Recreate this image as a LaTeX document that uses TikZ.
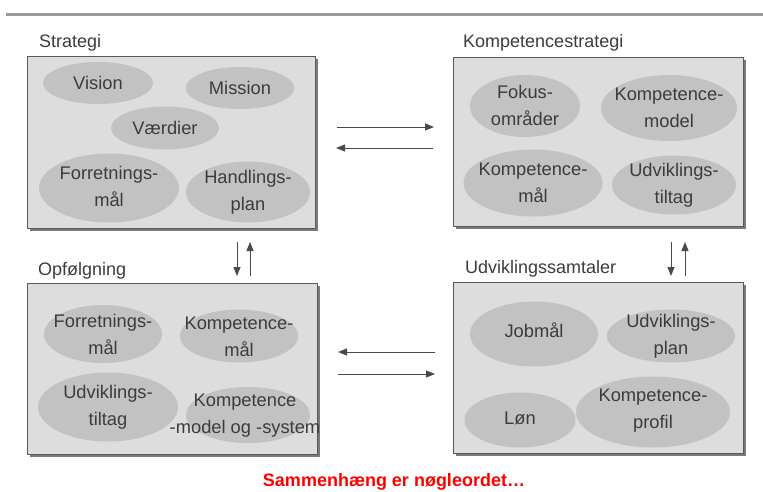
\documentclass[tikz,border=0pt]{standalone}
\usepackage{fontspec}
\setmainfont{Liberation Sans}
\usetikzlibrary{arrows.meta,shapes.geometric,shadows}
\definecolor{boxfill}{HTML}{DDDDDD}
\definecolor{boxline}{HTML}{5A5A5A}
\definecolor{shadowgray}{HTML}{7A7A7A}
\definecolor{ellfill}{HTML}{C2C2C2}
\definecolor{txtgray}{HTML}{3C3C3C}
\definecolor{arrgray}{HTML}{4A4A4A}
\definecolor{topline}{HTML}{9A9A9A}
\newcommand\ellip[7]{%
  \node[ell, minimum width=#4pt, minimum height=#5pt] (#1) at (#2,#3) {};
  \node[etxt] (#1t) at ([yshift=#6pt]#1.center) {#7};}
\begin{document}
\begin{tikzpicture}[x=1pt,y=-1pt,
  box/.style={draw=boxline, line width=1pt, fill=boxfill, inner sep=0,
    drop shadow={shadow xshift=3pt, shadow yshift=-3pt, fill=shadowgray, opacity=1}},
  ell/.style={ellipse, fill=ellfill, draw=none, inner sep=0},
  etxt/.style={text=txtgray, font=\fontsize{18.3}{27}\selectfont, align=center, inner sep=0},
  ttl/.style={text=txtgray, font=\fontsize{18}{22}\selectfont, anchor=base west, inner sep=0},
  arr/.style={draw=arrgray, line width=0.9pt, -{Triangle[length=9pt,width=7pt]}}]
\useasboundingbox (0,0) rectangle (763,491);
\fill[white] (0,0) rectangle (763,491);
% top rule
\coordinate (tl) at (6,14);
\coordinate (tr) at (763,14);
\draw[topline, line width=3pt] (tl) -- (tr);
% boxes
\node[box, minimum width=288pt, minimum height=172pt] (S) at (171,142) {};
\node[box, minimum width=290pt, minimum height=169pt] (K) at (598,141.5) {};
\node[box, minimum width=290pt, minimum height=171pt] (O) at (172,368.5) {};
\node[box, minimum width=290pt, minimum height=171pt] (U) at (598,367.5) {};
% titles
\node[ttl] (tS) at (39,47) {Strategi};
\node[ttl] (tK) at (463,47) {Kompetencestrategi};
\node[ttl] (tO) at (38,275) {Opfølgning};
\node[ttl] (tU) at (465,273) {Udviklingssamtaler};
% Strategi ellipses
\ellip{vis}{98}{83}{110}{42}{0}{Vision}
\ellip{mis}{240}{88}{108}{42}{0}{Mission}
\ellip{vae}{165}{128}{108}{43}{0}{Værdier}
\ellip{forr}{109}{188}{140}{69}{2}{Forretnings-\\mål}
\ellip{hand}{248}{192}{124}{61}{0}{Handlings-\\plan}
% Kompetencestrategi ellipses
\ellip{fok}{525}{106}{110}{62}{1}{Fokus-\\områder}
\ellip{kmod}{669}{108}{136}{66}{0}{Kompetence-\\model}
\ellip{kmaal}{533}{183}{139}{67}{0}{Kompetence-\\mål}
\ellip{udv}{674}{185}{124}{59}{0}{Udviklings-\\tiltag}
% Opfoelgning ellipses
\ellip{oforr}{103}{334}{118}{58}{0}{Forretnings-\\mål}
\ellip{okm}{239}{336}{118}{53}{-1}{Kompetence-\\mål}
\ellip{oudv}{108}{407}{140}{69}{0}{Udviklings-\\tiltag}
\node[ell, minimum width=124pt, minimum height=56pt] (oks) at (248,415) {};
\node[etxt] (okst) at (245,416) {Kompetence\\-model og -system};
% Udviklingssamtaler ellipses
\ellip{job}{534}{334}{128}{65}{4}{Jobmål}
\ellip{uplan}{671}{336}{128}{53}{0}{Udviklings-\\plan}
\ellip{lon}{520}{420}{111}{55}{2}{Løn}
\ellip{kprof}{653}{412}{154}{71}{1}{Kompetence-\\profil}
% arrow end points
\coordinate (h1a) at (337,127); \coordinate (h1b) at (434,127);
\coordinate (h2a) at (433,148); \coordinate (h2b) at (336,148);
\coordinate (h3a) at (435,352); \coordinate (h3b) at (338,352);
\coordinate (h4a) at (338,374); \coordinate (h4b) at (435,374);
\coordinate (v1a) at (237,242); \coordinate (v1b) at (237,276);
\coordinate (v2a) at (250,276); \coordinate (v2b) at (250,242);
\coordinate (v3a) at (671,242); \coordinate (v3b) at (671,276);
\coordinate (v4a) at (685,276); \coordinate (v4b) at (685,242);
\draw[arr] (h1a) -- (h1b);
\draw[arr] (h2a) -- (h2b);
\draw[arr] (h3a) -- (h3b);
\draw[arr] (h4a) -- (h4b);
\draw[arr] (v1a) -- (v1b);
\draw[arr] (v2a) -- (v2b);
\draw[arr] (v3a) -- (v3b);
\draw[arr] (v4a) -- (v4b);
% bottom slogan
\node[text={rgb,255:red,255;green,0;blue,0}, font=\bfseries\fontsize{18}{22}\selectfont, anchor=base, inner sep=0] (slogan) at (394,486) {Sammenhæng er nøgleordet…};
\end{tikzpicture}
\end{document}
